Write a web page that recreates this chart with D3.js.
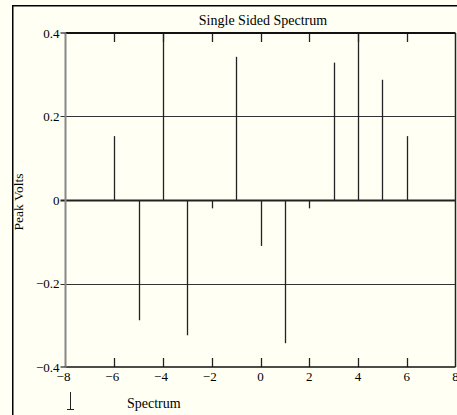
<!DOCTYPE html>
<html><head><meta charset="utf-8">
<script src="https://cdn.jsdelivr.net/npm/d3@7"></script>
<style>
html,body{margin:0;padding:0;background:#fffff4;overflow:hidden;}
svg{display:block;}
text{font-family:"Liberation Serif","Times New Roman",serif;fill:#000;}
</style></head>
<body>
<script>
const frequencies = [-6, -5, -4, -3, -2, -1, 0, 1, 2, 3, 4, 5, 6];
const peakVolts = [0.153, -0.288, 0.4, -0.324, -0.02, 0.343, -0.11, -0.343, -0.02, 0.329, 0.4, 0.288, 0.153];
const xTicks = [-8, -6, -4, -2, 0, 2, 4, 6, 8];
const yTicks = [-0.4, -0.2, 0, 0.2, 0.4];
const gridValues = [-0.2, 0, 0.2];
const title = "Single Sided Spectrum";
const yLabel = "Peak Volts";
const xLabel = "Spectrum";

const W = 457, H = 415;
const svg = d3.select("body").append("svg").attr("width", W).attr("height", H);
svg.append("rect").attr("width", W).attr("height", H).attr("fill", "#fffff4");

const x = d3.scaleLinear().domain([-8, 8]).range([65.5, 455.5]);
const y = d3.scaleLinear().domain([-0.4, 0.4]).range([367, 33]);

// outer frame lines
svg.append("rect").attr("x", 12).attr("y", 5).attr("width", 1.5).attr("height", H - 5).attr("fill", "#000");
svg.append("rect").attr("x", 12).attr("y", 5).attr("width", W - 12).attr("height", 1.5).attr("fill", "#000");

// gridlines
svg.selectAll(".grid").data(gridValues).enter().append("line")
  .attr("x1", x(-8) - 5).attr("x2", x(8))
  .attr("y1", d => Math.round(y(d)) + 0.5).attr("y2", d => Math.round(y(d)) + 0.5)
  .attr("stroke", d => d === 0 ? "#222" : "#333")
  .attr("stroke-width", d => d === 0 ? 2 : 1.2);

// stems
svg.selectAll(".stem").data(frequencies).enter().append("line")
  .attr("x1", d => Math.round(x(d)) + 0.5).attr("x2", d => Math.round(x(d)) + 0.5)
  .attr("y1", y(0)).attr("y2", (d, i) => y(peakVolts[i]))
  .attr("stroke", "#222").attr("stroke-width", 1.3);

// tick marks top and bottom
const tickIn = xTicks.filter(t => t > -8 && t < 8);
svg.selectAll(".tt").data(tickIn).enter().append("line")
  .attr("x1", d => Math.round(x(d)) + 0.5).attr("x2", d => Math.round(x(d)) + 0.5)
  .attr("y1", y(0.4)).attr("y2", y(0.4) + 9).attr("stroke", "#222").attr("stroke-width", 1.3);
svg.selectAll(".tb").data(tickIn).enter().append("line")
  .attr("x1", d => Math.round(x(d)) + 0.5).attr("x2", d => Math.round(x(d)) + 0.5)
  .attr("y1", y(-0.4)).attr("y2", y(-0.4) - 9).attr("stroke", "#222").attr("stroke-width", 1.3);

// plot borders
svg.append("line").attr("x1", x(-8)).attr("x2", x(8)).attr("y1", y(0.4)).attr("y2", y(0.4)).attr("stroke", "#111").attr("stroke-width", 2);
svg.append("line").attr("x1", x(-8)).attr("x2", x(8)).attr("y1", y(-0.4)).attr("y2", y(-0.4)).attr("stroke", "#111").attr("stroke-width", 1.5);
svg.append("line").attr("x1", x(8)).attr("x2", x(8)).attr("y1", y(0.4)).attr("y2", y(-0.4)).attr("stroke", "#222").attr("stroke-width", 1.5);
svg.append("line").attr("x1", x(-8)).attr("x2", x(-8)).attr("y1", y(0.4)).attr("y2", y(-0.4)).attr("stroke", "#888").attr("stroke-width", 2);

// y tick stubs and labels
const fmt = d => d === 0 ? "0" : d3.format(".1f")(d).replace("-", "\u2212");
svg.selectAll(".ys").data([-0.4, 0.4]).enter().append("line")
  .attr("x1", x(-8) - 5).attr("x2", x(-8)).attr("y1", d => y(d)).attr("y2", d => y(d))
  .attr("stroke", "#222").attr("stroke-width", 1.2);
svg.selectAll(".yl").data(yTicks).enter().append("text")
  .attr("x", x(-8) - 6).attr("y", d => y(d) + 4.5)
  .attr("text-anchor", "end").attr("font-size", 13).text(fmt);

// x labels
svg.selectAll(".xl").data(xTicks).enter().append("text")
  .attr("x", d => x(d) + (d < 0 ? -2 : 0)).attr("y", 381)
  .attr("text-anchor", "middle").attr("font-size", 13)
  .text(d => String(d).replace("-", "\u2212"));

// title & axis labels
svg.append("text").attr("x", 263).attr("y", 25).attr("text-anchor", "middle").attr("font-size", 14).text(title);
svg.append("text").attr("transform", `translate(23,${y(0) + 2}) rotate(-90)`).attr("text-anchor", "middle").attr("font-size", 13.5).text(yLabel);
svg.append("text").attr("x", 127).attr("y", 408).attr("font-size", 14).text(xLabel);

// marker glyph
svg.append("line").attr("x1", 70.5).attr("x2", 70.5).attr("y1", 392).attr("y2", 409).attr("stroke", "#222").attr("stroke-width", 1);
svg.append("line").attr("x1", 67).attr("x2", 74).attr("y1", 409.5).attr("y2", 409.5).attr("stroke", "#222").attr("stroke-width", 1);
</script>
</body></html>
